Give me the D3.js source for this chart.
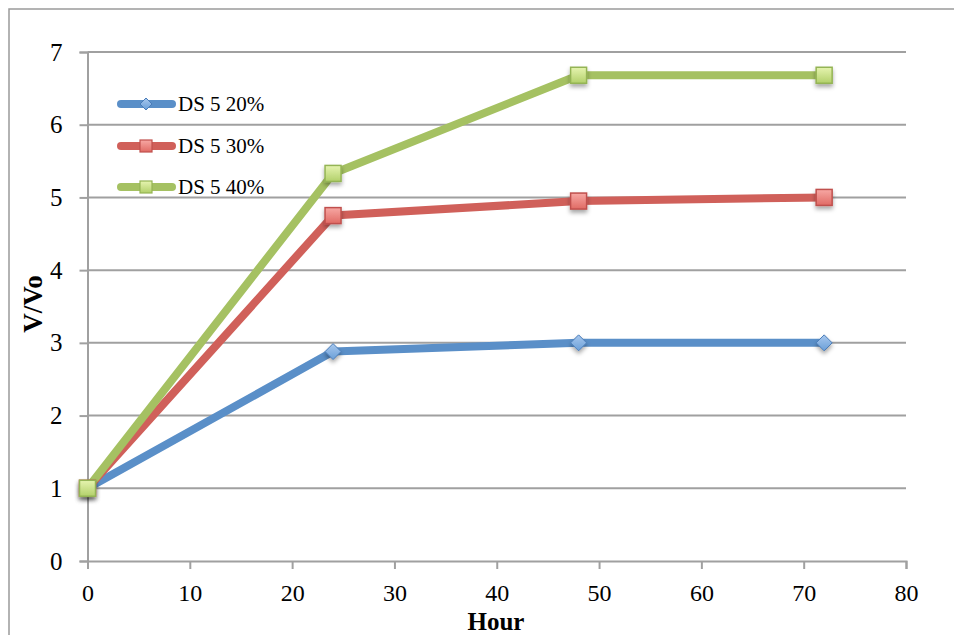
<!DOCTYPE html>
<html>
<head>
<meta charset="utf-8">
<script src="https://cdn.jsdelivr.net/npm/d3@7"></script>
<style>
  html, body { margin: 0; padding: 0; background: #fff; }
  svg { display: block; }
  text { font-family: "Liberation Serif", "DejaVu Serif", serif; fill: #000; }
</style>
</head>
<body>
<svg id="chart" width="954" height="635"></svg>
<script>
// Swelling ratio V/Vo over time for three DS 5 concentrations
const hours = [0, 24, 48, 72];
const seriesNames = ["DS 5 20%", "DS 5 30%", "DS 5 40%"];
const ds20 = [1, 2.88, 3.0, 3.0];
const ds30 = [1, 4.75, 4.95, 5.0];
const ds40 = [1, 5.33, 6.68, 6.68];
const xTicks = [0, 10, 20, 30, 40, 50, 60, 70, 80];
const yTicks = [0, 1, 2, 3, 4, 5, 6, 7];

const lineColors = ["#5a8fc8", "#d0605a", "#a5c162"];
const markerFill = [["#a8c8ee", "#6a9fd8"], ["#f7a8a4", "#e06a64"], ["#e6f4b0", "#b2d06a"]];
const markerStroke = ["#4a7cb8", "#c0504d", "#94b454"];
const shapes = ["diamond", "square", "square"];

const svg = d3.select("#chart");
const defs = svg.append("defs");

markerFill.forEach((c, i) => {
  const g = defs.append("linearGradient").attr("id", "mg" + i)
    .attr("x1", 0).attr("y1", 0).attr("x2", 0).attr("y2", 1);
  g.append("stop").attr("offset", "0%").attr("stop-color", c[0]);
  g.append("stop").attr("offset", "100%").attr("stop-color", c[1]);
});
const sh = defs.append("filter").attr("id", "shadow")
  .attr("x", "-50%").attr("y", "-50%").attr("width", "200%").attr("height", "200%");
sh.append("feDropShadow").attr("dx", 0).attr("dy", 3).attr("stdDeviation", 2)
  .attr("flood-color", "#000").attr("flood-opacity", 0.35);

// outer frame
svg.append("rect").attr("x", 9).attr("y", 9).attr("width", 1000).attr("height", 700)
  .attr("fill", "none").attr("stroke", "#9a9a9a").attr("stroke-width", 1.5);

const x = d3.scaleLinear().domain([0, 80]).range([87.5, 906]);
const y = d3.scaleLinear().domain([0, 7]).range([561, 52]);

const gridColor = "#a0a0a0";

// horizontal gridlines
svg.append("g").selectAll("line").data(yTicks.filter(d => d > 0)).join("line")
  .attr("x1", x(0)).attr("x2", x(80))
  .attr("y1", d => y(d)).attr("y2", d => y(d))
  .attr("stroke", gridColor).attr("stroke-width", 2);

// y axis
const yAxis = svg.append("g").attr("transform", `translate(${x(0)},0)`)
  .call(d3.axisLeft(y).tickValues(yTicks).tickSize(8).tickPadding(17).tickFormat(d3.format("d")));
yAxis.select(".domain").attr("stroke", gridColor).attr("stroke-width", 2);
yAxis.selectAll(".tick line").attr("stroke", gridColor).attr("stroke-width", 2);
yAxis.selectAll(".tick text").style("font-size", "25px").style("font-family", "Liberation Serif, serif")
  .attr("fill", "#000");

// x axis
const xAxis = svg.append("g").attr("transform", `translate(0,${y(0)})`)
  .call(d3.axisBottom(x).tickValues(xTicks).tickSize(8).tickPadding(15).tickFormat(d3.format("d")));
xAxis.select(".domain").attr("stroke", gridColor).attr("stroke-width", 2);
xAxis.selectAll(".tick line").attr("stroke", gridColor).attr("stroke-width", 2);
xAxis.selectAll(".tick text").style("font-size", "24px").style("font-family", "Liberation Serif, serif")
  .attr("fill", "#000");

// axis titles
svg.append("text").attr("x", 496).attr("y", 630).attr("text-anchor", "middle")
  .style("font-size", "25px").style("font-weight", "bold").text("Hour");
svg.append("text").attr("transform", "translate(42,304) rotate(-90)").attr("text-anchor", "middle")
  .style("font-size", "27px").style("font-weight", "bold").text("V/Vo");

const allSeries = [ds20, ds30, ds40];
const line = d3.line().x((d, i) => x(hours[i])).y(d => y(d));

function drawMarker(g, shape, i, cx, cy) {
  if (shape === "diamond") {
    const s = 8;
    g.append("path").attr("d", `M${cx},${cy - s}L${cx + s},${cy}L${cx},${cy + s}L${cx - s},${cy}Z`)
      .attr("fill", `url(#mg${i})`).attr("stroke", markerStroke[i]).attr("stroke-width", 1)
      .attr("filter", "url(#shadow)");
  } else {
    const s = 8;
    g.append("rect").attr("x", cx - s).attr("y", cy - s).attr("width", 2 * s).attr("height", 2 * s)
      .attr("fill", `url(#mg${i})`).attr("stroke", markerStroke[i]).attr("stroke-width", 1.5)
      .attr("filter", "url(#shadow)");
  }
}

allSeries.forEach((vals, i) => {
  const g = svg.append("g");
  g.append("path").datum(vals).attr("d", line)
    .attr("fill", "none").attr("stroke", lineColors[i]).attr("stroke-width", 8)
    .attr("stroke-linejoin", "round").attr("stroke-linecap", "butt");
});
allSeries.forEach((vals, i) => {
  const g = svg.append("g");
  vals.forEach((v, j) => drawMarker(g, shapes[i], i, x(hours[j]), y(v)));
});

// legend
const legendY = [104, 146, 187];
seriesNames.forEach((name, i) => {
  const g = svg.append("g");
  g.append("line").attr("x1", 121).attr("x2", 172).attr("y1", legendY[i]).attr("y2", legendY[i])
    .attr("stroke", lineColors[i]).attr("stroke-width", 8).attr("stroke-linecap", "round");
  if (shapes[i] === "diamond") {
    const cx = 146, cy = legendY[i], s = 6;
    g.append("path").attr("d", `M${cx},${cy - s}L${cx + s},${cy}L${cx},${cy + s}L${cx - s},${cy}Z`)
      .attr("fill", `url(#mg${i})`).attr("stroke", markerStroke[i]).attr("stroke-width", 1);
  } else {
    g.append("rect").attr("x", 140).attr("y", legendY[i] - 6).attr("width", 12).attr("height", 12)
      .attr("fill", `url(#mg${i})`).attr("stroke", markerStroke[i]).attr("stroke-width", 1.2);
  }
  g.append("text").attr("x", 178).attr("y", legendY[i] + 7)
    .style("font-size", "21px").text(name);
});
</script>
</body>
</html>
